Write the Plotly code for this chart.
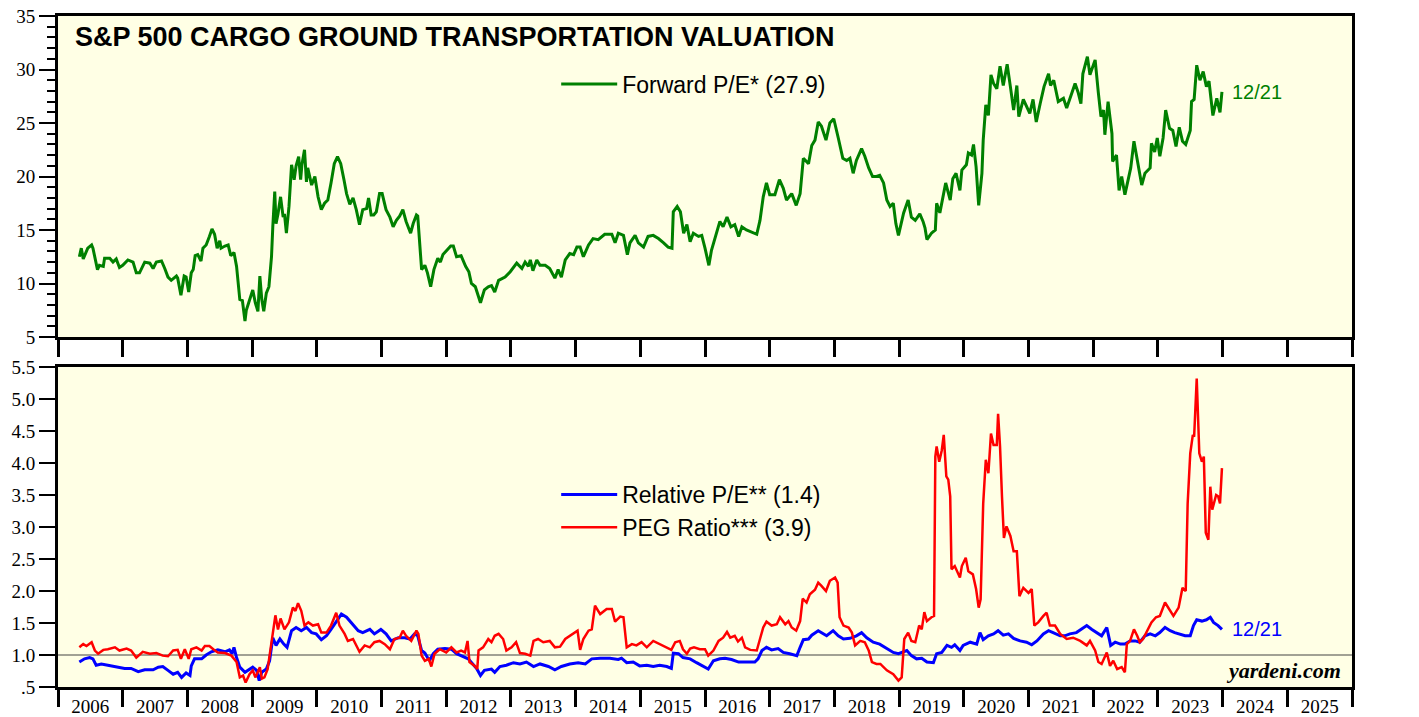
import plotly.graph_objects as go

# ---------------- data (decimal years) ----------------
pe_dates = [
    2006.33, 2006.36, 2006.39, 2006.46, 2006.52, 2006.54, 2006.61, 2006.64, 2006.70, 2006.72,
    2006.80, 2006.85, 2006.90, 2006.95, 2007.00, 2007.08, 2007.16, 2007.21, 2007.26, 2007.34,
    2007.42, 2007.47, 2007.52, 2007.60, 2007.65, 2007.70, 2007.75, 2007.83, 2007.85, 2007.90,
    2007.95, 2007.98, 2008.02, 2008.06, 2008.09, 2008.12, 2008.16, 2008.21, 2008.24, 2008.29,
    2008.34, 2008.38, 2008.42, 2008.46, 2008.50, 2008.52, 2008.58, 2008.63, 2008.67, 2008.72,
    2008.76, 2008.81, 2008.85, 2008.89, 2008.91, 2008.98, 2009.01, 2009.05, 2009.09, 2009.12,
    2009.15, 2009.18, 2009.22, 2009.26, 2009.30, 2009.32, 2009.35, 2009.37, 2009.40, 2009.44,
    2009.48, 2009.50, 2009.53, 2009.57, 2009.61, 2009.65, 2009.68, 2009.72, 2009.75, 2009.77,
    2009.81, 2009.84, 2009.86, 2009.92, 2009.97, 2010.02, 2010.07, 2010.12, 2010.17, 2010.22,
    2010.27, 2010.32, 2010.37, 2010.42, 2010.46, 2010.51, 2010.56, 2010.61, 2010.66, 2010.71,
    2010.77, 2010.80, 2010.84, 2010.88, 2010.92, 2010.97, 2011.01, 2011.07, 2011.13, 2011.18,
    2011.23, 2011.28, 2011.33, 2011.38, 2011.45, 2011.49, 2011.54, 2011.56, 2011.62, 2011.67,
    2011.71, 2011.76, 2011.81, 2011.87, 2011.91, 2011.95, 2012.00, 2012.07, 2012.11, 2012.16,
    2012.23, 2012.30, 2012.35, 2012.39, 2012.45, 2012.48, 2012.53, 2012.59, 2012.65, 2012.70,
    2012.75,
    2012.81, 2012.91, 2012.99, 2013.09, 2013.17, 2013.22, 2013.27, 2013.30, 2013.34, 2013.40,
    2013.45, 2013.53, 2013.60, 2013.68, 2013.73, 2013.78, 2013.84, 2013.91, 2013.97, 2014.02,
    2014.07, 2014.12, 2014.20, 2014.27, 2014.35, 2014.45, 2014.56, 2014.61, 2014.66, 2014.74,
    2014.80, 2014.84, 2014.92, 2014.97, 2015.05, 2015.12, 2015.20, 2015.28, 2015.36, 2015.43,
    2015.49, 2015.51, 2015.57, 2015.62, 2015.67, 2015.72, 2015.77, 2015.82, 2015.90, 2015.95,
    2016.00, 2016.06, 2016.10, 2016.15, 2016.23, 2016.28, 2016.34, 2016.40, 2016.46, 2016.52,
    2016.57, 2016.64, 2016.72, 2016.80, 2016.85, 2016.90, 2016.95, 2017.00, 2017.08, 2017.15,
    2017.21, 2017.26, 2017.34, 2017.41, 2017.47, 2017.52, 2017.60, 2017.65, 2017.70, 2017.75,
    2017.80, 2017.87, 2017.93, 2017.99, 2018.06, 2018.13, 2018.19, 2018.24, 2018.29, 2018.34,
    2018.42, 2018.47, 2018.53, 2018.59, 2018.65, 2018.70, 2018.76, 2018.81, 2018.86, 2018.91,
    2018.95, 2018.99, 2019.07, 2019.14, 2019.19, 2019.25,
    2019.32, 2019.37, 2019.40, 2019.43, 2019.50, 2019.56, 2019.58, 2019.63, 2019.72, 2019.79,
    2019.83, 2019.88, 2019.94, 2019.97, 2020.04, 2020.07, 2020.12, 2020.15, 2020.19, 2020.23,
    2020.28, 2020.30, 2020.34, 2020.38, 2020.42, 2020.46, 2020.51, 2020.56, 2020.61, 2020.67,
    2020.72, 2020.77, 2020.82, 2020.85, 2020.92, 2020.98, 2021.02, 2021.07, 2021.12, 2021.18,
    2021.24, 2021.31, 2021.34, 2021.39, 2021.46, 2021.54, 2021.59, 2021.67, 2021.72, 2021.77,
    2021.81, 2021.84, 2021.87, 2021.91, 2021.95, 2021.99, 2022.03, 2022.08, 2022.12, 2022.16,
    2022.18, 2022.23, 2022.29, 2022.30, 2022.36, 2022.40, 2022.44, 2022.49, 2022.54, 2022.58,
    2022.63, 2022.68, 2022.75, 2022.80, 2022.88, 2022.90, 2022.95, 2022.99, 2023.03, 2023.08,
    2023.12, 2023.18, 2023.23, 2023.28, 2023.33, 2023.38, 2023.43, 2023.50, 2023.52, 2023.56,
    2023.60, 2023.65, 2023.70, 2023.75, 2023.79, 2023.85, 2023.91, 2023.96, 2023.99,
]
pe_values = [
    12.5, 13.3, 12.3, 13.3, 13.6, 13.3, 11.3, 11.7, 11.6, 12.35,
    12.35, 12.0, 12.3, 11.5, 11.7, 12.2, 12.0, 11.0, 11.0, 12.0,
    11.9, 11.4, 12.0, 12.1, 11.4, 10.6, 10.3, 10.7, 10.5, 8.9,
    10.7, 10.6, 9.2, 11.0, 11.3, 12.6, 12.7, 12.1, 13.3, 13.6,
    14.4, 15.1, 14.6, 13.3, 14.0, 13.3, 13.5, 13.6, 12.6, 12.9,
    11.6, 8.5, 8.4, 6.5, 7.5, 8.7, 9.4, 8.2, 7.4, 10.7,
    8.5, 7.4, 9.1, 9.7, 12.5, 15.3, 18.6, 15.6, 16.5, 18.1,
    16.2, 16.5, 14.7, 17.2, 21.1, 19.7, 21.0, 21.85, 19.7, 21.1,
    22.5, 19.5, 20.8, 19.2, 20.0, 18.1, 16.9, 17.5, 17.8, 19.4,
    21.2, 21.85, 21.2, 19.7, 18.4, 17.4, 18.0, 16.9, 15.5, 16.9,
    17.0, 18.0, 16.4, 16.4, 16.7, 18.4, 18.4, 16.9, 16.2, 15.3,
    15.9, 16.3, 16.9, 15.8, 14.7, 15.6, 16.4, 16.3, 11.3, 11.7,
    11.0, 9.7, 11.3, 12.35, 12.0, 12.7, 13.0, 13.5, 13.5, 12.5,
    12.6, 11.6, 11.1, 10.0, 9.7, 9.1, 8.2, 9.4, 9.7, 9.8,
    9.2,
    10.3, 10.6, 11.1, 11.9, 11.4, 12.0, 11.6, 12.2, 11.2, 12.2,
    11.7, 11.7, 11.4, 10.5, 11.3, 10.6, 12.2, 12.8, 12.7, 13.4,
    13.4, 12.5, 13.6, 14.2, 14.1, 14.6, 14.6, 13.8, 14.7, 14.5,
    12.7, 13.8, 14.5, 13.8, 13.4, 14.4, 14.5, 14.2, 13.8, 13.4,
    13.3, 16.7, 17.2, 16.7, 14.7, 15.5, 13.9, 14.7, 14.4, 14.5,
    13.3, 11.7, 13.1, 14.1, 15.8, 15.3, 16.2, 15.3, 15.5, 14.4,
    15.3, 15.0, 14.8, 14.6, 15.9, 18.1, 19.4, 18.3, 18.3, 19.7,
    18.9, 17.8, 18.4, 17.3, 18.4, 21.7, 21.2, 22.9, 23.4, 25.1,
    24.7, 23.4, 25.0, 25.4, 23.6, 21.7, 21.5, 21.7, 20.3, 21.5,
    22.6, 21.9, 20.8, 20.0, 20.0, 20.1, 19.4, 17.8, 17.2, 17.5,
    15.6, 14.5, 16.6, 17.8, 16.2, 15.9,
    16.5, 15.8, 15.2, 14.1, 14.7, 15.0, 17.5, 16.6, 19.4, 17.8,
    19.8, 20.3, 18.7, 20.6, 21.1, 22.2, 22.0, 23.0, 20.9, 17.3,
    20.3, 23.4, 26.7, 25.7, 29.5, 28.7, 28.2, 30.3, 28.5, 30.5,
    28.4, 26.2, 28.5, 25.6, 27.2, 26.5, 25.9, 27.2, 25.1, 26.8,
    28.4, 29.6, 28.5, 29.0, 27.0, 27.3, 26.4, 27.8, 28.7, 27.8,
    26.8, 29.6, 30.4, 31.2, 29.5, 30.3, 30.9, 27.8, 25.6, 26.2,
    23.9, 27.0, 24.0, 21.4, 22.0, 18.7, 20.0, 18.3, 19.7, 20.8,
    23.3, 21.7, 19.2, 20.3, 20.8, 23.1, 22.3, 23.6, 21.9, 23.6,
    26.2, 24.5, 24.3, 22.8, 24.6, 23.3, 23.0, 24.3, 27.0, 27.2,
    30.4, 29.0, 29.8, 28.4, 28.9, 25.7, 27.3, 26.0, 27.9,
]

rel_dates = [
    2006.33, 2006.41, 2006.49, 2006.54, 2006.59, 2006.67, 2006.77, 2006.90, 2007.03, 2007.13,
    2007.24, 2007.34, 2007.47, 2007.55, 2007.62, 2007.70, 2007.78, 2007.85, 2007.91, 2007.98,
    2008.04, 2008.06, 2008.11, 2008.22, 2008.29, 2008.37, 2008.47, 2008.58, 2008.65, 2008.69,
    2008.72, 2008.76, 2008.81, 2008.89, 2008.96, 2009.01, 2009.07, 2009.11, 2009.15, 2009.22,
    2009.27, 2009.32, 2009.37, 2009.43, 2009.49, 2009.54, 2009.61, 2009.68, 2009.76, 2009.84,
    2009.92, 2009.99, 2010.07, 2010.15, 2010.22, 2010.30, 2010.38, 2010.46, 2010.53, 2010.64,
    2010.71, 2010.82, 2010.89, 2010.99, 2011.07, 2011.15, 2011.26, 2011.36, 2011.44, 2011.51,
    2011.56, 2011.62, 2011.67, 2011.74, 2011.80, 2011.87, 2011.98, 2012.08, 2012.16, 2012.26,
    2012.34, 2012.41, 2012.47, 2012.53, 2012.59, 2012.70, 2012.75,
    2012.83, 2012.93, 2013.04, 2013.14, 2013.24, 2013.35, 2013.45, 2013.58, 2013.68, 2013.78,
    2013.91, 2014.04, 2014.15, 2014.25, 2014.38, 2014.53, 2014.66, 2014.71, 2014.79, 2014.89,
    2014.99, 2015.10, 2015.20, 2015.30, 2015.41, 2015.48, 2015.51, 2015.59, 2015.66, 2015.77,
    2015.87, 2015.97, 2016.05, 2016.13, 2016.23, 2016.31, 2016.41, 2016.52, 2016.64, 2016.77,
    2016.82, 2016.88, 2016.95, 2017.03, 2017.13, 2017.21, 2017.31, 2017.42, 2017.47, 2017.52,
    2017.60, 2017.65, 2017.75, 2017.83, 2017.88, 2017.98, 2018.06, 2018.14, 2018.24, 2018.34,
    2018.42, 2018.50, 2018.60, 2018.70, 2018.81, 2018.91, 2018.99,
    2019.12, 2019.19, 2019.27, 2019.35, 2019.43, 2019.53, 2019.58, 2019.66, 2019.74, 2019.81,
    2019.86, 2019.94, 2019.99, 2020.10, 2020.20, 2020.25, 2020.30, 2020.38, 2020.46, 2020.53,
    2020.61, 2020.69, 2020.77, 2020.87, 2020.97, 2021.05, 2021.13, 2021.23, 2021.31, 2021.38,
    2021.49, 2021.56, 2021.64, 2021.74, 2021.82, 2021.90, 2021.98, 2022.05, 2022.13, 2022.21,
    2022.27, 2022.34, 2022.42, 2022.49, 2022.57, 2022.65, 2022.72, 2022.80, 2022.88, 2022.96,
    2023.03, 2023.11, 2023.19, 2023.26, 2023.34, 2023.42, 2023.50, 2023.55, 2023.60, 2023.68,
    2023.75, 2023.81, 2023.86, 2023.93, 2023.99,
]
rel_values = [
    0.89, 0.94, 0.96, 0.94, 0.84, 0.86, 0.84, 0.81, 0.79, 0.79,
    0.74, 0.77, 0.77, 0.81, 0.82, 0.76, 0.70, 0.73, 0.65, 0.72,
    0.68, 0.83, 0.94, 0.94, 1.00, 1.05, 1.08, 1.05, 1.08, 1.02,
    1.12, 0.96, 0.81, 0.73, 0.78, 0.81, 0.76, 0.60, 0.73, 0.78,
    0.91, 1.27, 1.15, 1.25, 1.17, 1.12, 1.38, 1.43, 1.38, 1.43,
    1.35, 1.33, 1.24, 1.30, 1.40, 1.53, 1.64, 1.59, 1.51, 1.38,
    1.35, 1.40, 1.33, 1.40, 1.33, 1.22, 1.27, 1.27, 1.25, 1.33,
    1.30, 1.07, 1.03, 0.91, 1.02, 1.09, 1.10, 1.09, 1.02, 0.98,
    0.94, 0.86, 0.79, 0.68, 0.76, 0.78, 0.73,
    0.82, 0.84, 0.88, 0.86, 0.89, 0.82, 0.86, 0.82, 0.77, 0.82,
    0.86, 0.88, 0.86, 0.94, 0.95, 0.95, 0.93, 0.95, 0.88, 0.89,
    0.83, 0.84, 0.82, 0.84, 0.82, 0.79, 1.03, 1.02, 0.96, 0.94,
    0.88, 0.83, 0.78, 0.91, 0.94, 0.95, 0.93, 0.89, 0.89, 0.89,
    0.94, 1.07, 1.12, 1.08, 1.10, 1.04, 1.02, 0.99, 1.12, 1.24,
    1.25, 1.31, 1.38, 1.33, 1.30, 1.38, 1.30, 1.25, 1.26, 1.30,
    1.35, 1.27, 1.20, 1.17, 1.10, 1.04, 1.02,
    1.07, 0.99, 0.94, 0.95, 0.89, 0.88, 1.02, 1.04, 1.15, 1.12,
    1.16, 1.07, 1.15, 1.20, 1.17, 1.35, 1.24, 1.30, 1.33, 1.38,
    1.31, 1.33, 1.26, 1.22, 1.20, 1.16, 1.22, 1.33, 1.38, 1.35,
    1.30, 1.30, 1.33, 1.35, 1.40, 1.46, 1.40, 1.35, 1.30, 1.43,
    1.15, 1.20, 1.17, 1.17, 1.22, 1.22, 1.20, 1.30, 1.33, 1.30,
    1.35, 1.43, 1.38, 1.35, 1.33, 1.30, 1.30, 1.46, 1.55, 1.53,
    1.55, 1.59, 1.51, 1.46, 1.40,
]

peg_dates = [
    2006.33, 2006.39, 2006.44, 2006.52, 2006.57, 2006.62, 2006.70, 2006.77, 2006.88, 2006.95,
    2007.06, 2007.13, 2007.21, 2007.31, 2007.42, 2007.52, 2007.62, 2007.70, 2007.78, 2007.85,
    2007.90, 2007.96, 2008.02, 2008.06, 2008.14, 2008.22, 2008.27, 2008.34, 2008.40, 2008.47,
    2008.58, 2008.68, 2008.76, 2008.81, 2008.86, 2008.90, 2008.96, 2009.01, 2009.05, 2009.12,
    2009.15, 2009.19, 2009.24, 2009.27, 2009.32, 2009.36, 2009.40, 2009.44, 2009.50, 2009.57,
    2009.63, 2009.67, 2009.71, 2009.76, 2009.81, 2009.87, 2009.94, 2010.02, 2010.07, 2010.15,
    2010.22, 2010.30, 2010.35, 2010.43, 2010.48, 2010.56, 2010.66, 2010.74, 2010.82, 2010.89,
    2010.97, 2011.05, 2011.13, 2011.20, 2011.28, 2011.33, 2011.38, 2011.46, 2011.54, 2011.57,
    2011.62, 2011.67, 2011.73, 2011.77, 2011.82, 2011.90, 2012.00, 2012.08, 2012.16, 2012.23,
    2012.29, 2012.33, 2012.36, 2012.44, 2012.48, 2012.50, 2012.57, 2012.65, 2012.70, 2012.75,
    2012.81, 2012.88, 2012.93, 2013.01, 2013.08, 2013.14, 2013.22, 2013.30, 2013.35, 2013.42,
    2013.50, 2013.60, 2013.68, 2013.76, 2013.84, 2013.91, 2013.99, 2014.03, 2014.07, 2014.12,
    2014.20, 2014.25, 2014.30, 2014.38, 2014.48, 2014.56, 2014.61, 2014.69, 2014.74, 2014.79,
    2014.87, 2014.94, 2015.02, 2015.10, 2015.20, 2015.30, 2015.38, 2015.48, 2015.54, 2015.61,
    2015.66, 2015.72, 2015.77, 2015.83, 2015.92, 2016.00, 2016.05, 2016.13, 2016.21, 2016.28,
    2016.34, 2016.39, 2016.46, 2016.51, 2016.57, 2016.62, 2016.70, 2016.80, 2016.85, 2016.90,
    2016.95, 2017.03, 2017.11, 2017.16, 2017.24, 2017.29, 2017.34, 2017.41, 2017.47, 2017.51,
    2017.57, 2017.62, 2017.70, 2017.75, 2017.80, 2017.87, 2017.93, 2018.01, 2018.05, 2018.08,
    2018.14, 2018.22, 2018.27, 2018.32, 2018.40, 2018.47, 2018.53, 2018.58, 2018.65,
    2018.71, 2018.81, 2018.91, 2018.99, 2019.04, 2019.08, 2019.14, 2019.19, 2019.25, 2019.31,
    2019.35, 2019.39, 2019.43, 2019.50, 2019.54, 2019.56, 2019.58, 2019.62, 2019.66, 2019.69,
    2019.73, 2019.76, 2019.79, 2019.81, 2019.86, 2019.94, 2019.97, 2020.03, 2020.07, 2020.14,
    2020.19, 2020.23, 2020.26, 2020.30, 2020.34, 2020.38, 2020.42, 2020.46, 2020.51, 2020.53,
    2020.56, 2020.59, 2020.62, 2020.66, 2020.72, 2020.77, 2020.82, 2020.86, 2020.92, 2021.00,
    2021.05, 2021.09, 2021.15, 2021.23, 2021.28, 2021.33, 2021.41, 2021.49, 2021.59, 2021.69,
    2021.80, 2021.90, 2021.95, 2022.03, 2022.08, 2022.13, 2022.21, 2022.26, 2022.31, 2022.37,
    2022.44, 2022.49, 2022.52, 2022.57, 2022.63, 2022.68, 2022.72, 2022.77, 2022.85, 2022.90,
    2022.97, 2023.03, 2023.11, 2023.16, 2023.24, 2023.32, 2023.38, 2023.43, 2023.46, 2023.50,
    2023.54, 2023.56, 2023.60, 2023.64, 2023.68, 2023.71, 2023.74, 2023.78, 2023.81, 2023.84,
    2023.90, 2023.93, 2023.96, 2023.99,
]
peg_values = [
    1.12, 1.17, 1.14, 1.20, 1.07, 1.02, 1.08, 1.09, 1.12, 1.07,
    1.10, 1.07, 0.96, 1.05, 1.02, 1.03, 0.99, 0.98, 1.07, 1.08,
    0.94, 1.09, 0.94, 1.09, 1.12, 1.07, 1.14, 1.14, 1.09, 1.04,
    1.03, 0.99, 0.89, 0.65, 0.68, 0.57, 0.70, 0.76, 0.65, 0.81,
    0.63, 0.65, 0.78, 0.99, 1.40, 1.62, 1.40, 1.57, 1.40, 1.51,
    1.74, 1.69, 1.81, 1.69, 1.46, 1.51, 1.46, 1.48, 1.35, 1.35,
    1.46, 1.66, 1.46, 1.33, 1.22, 1.25, 1.05, 1.15, 1.12, 1.20,
    1.22, 1.17, 1.09, 1.25, 1.27, 1.38, 1.30, 1.22, 1.38, 1.33,
    0.99, 0.91, 0.94, 0.82, 1.02, 1.09, 1.04, 1.12, 1.04, 1.07,
    1.04, 1.22, 0.89, 0.83, 0.78, 1.07, 1.12, 1.25, 1.20, 1.30,
    1.33, 1.25, 1.07, 1.12, 1.20, 1.03, 1.02, 0.99, 1.22, 1.25,
    1.20, 1.22, 1.12, 1.13, 1.25, 1.30, 1.35, 1.38, 1.08, 1.25,
    1.38, 1.40, 1.77, 1.64, 1.72, 1.72, 1.52, 1.60, 1.59, 1.12,
    1.17, 1.15, 1.20, 1.12, 1.22, 1.17, 1.12, 1.08, 1.20, 1.22,
    1.09, 1.02, 1.10, 1.12, 1.09, 1.09, 0.99, 1.07, 1.22, 1.27,
    1.36, 1.27, 1.30, 1.21, 1.27, 1.12, 1.08, 1.07, 1.25, 1.43,
    1.52, 1.46, 1.48, 1.59, 1.48, 1.53, 1.43, 1.38, 1.53, 1.88,
    1.82, 1.95, 2.02, 2.13, 2.08, 2.00, 2.16, 2.21, 2.13, 1.59,
    1.46, 1.43, 1.35, 1.15, 1.22, 1.20, 1.07, 0.89, 0.86,
    0.86, 0.76, 0.70, 0.60, 0.65, 1.25, 1.35, 1.22, 1.20, 1.46,
    1.40, 1.67, 1.53, 1.59, 1.61, 4.10, 4.26, 4.02, 4.20, 4.44,
    3.79, 3.74, 3.48, 2.34, 2.39, 2.21, 2.39, 2.52, 2.31, 2.26,
    2.03, 1.74, 1.87, 3.37, 4.05, 3.84, 4.46, 4.28, 4.28, 4.77,
    4.26, 3.48, 2.83, 3.01, 2.86, 2.62, 2.62, 1.92, 2.05, 1.97,
    2.03, 1.46, 1.51, 1.61, 1.66, 1.46, 1.46, 1.33, 1.25, 1.27,
    1.22, 1.15, 1.22, 1.07, 0.89, 0.86, 1.04, 0.83, 0.91, 0.78,
    0.81, 0.73, 1.17, 1.22, 1.40, 1.30, 1.20, 1.25, 1.40, 1.51,
    1.59, 1.61, 1.82, 1.74, 1.61, 1.74, 2.05, 2.00, 3.37, 4.15,
    4.44, 4.41, 5.32, 4.15, 4.02, 4.10, 2.91, 2.80, 3.63, 3.27,
    3.50, 3.48, 3.37, 3.92,
]

years = list(range(2006, 2026))
year_edges = list(range(2006, 2027))
top_ticks = [5, 10, 15, 20, 25, 30, 35]
bottom_ticks = [0.5, 1.0, 1.5, 2.0, 2.5, 3.0, 3.5, 4.0, 4.5, 5.0, 5.5]
bottom_tick_text = [".5", "1.0", "1.5", "2.0", "2.5", "3.0", "3.5", "4.0", "4.5", "5.0", "5.5"]

# ---------------- figure ----------------
SERIF = "Liberation Serif"
SANS = "Liberation Sans"
BG = "#FFFFE5"

fig = go.Figure()
fig.add_trace(go.Scatter(x=pe_dates, y=pe_values, mode="lines", name="Forward P/E* (27.9)",
                         line=dict(color="#008000", width=3), xaxis="x", yaxis="y", legend="legend"))
fig.add_trace(go.Scatter(x=rel_dates, y=rel_values, mode="lines", name="Relative P/E** (1.4)",
                         line=dict(color="#0000FF", width=3), xaxis="x2", yaxis="y2", legend="legend2"))
fig.add_trace(go.Scatter(x=peg_dates, y=peg_values, mode="lines", name="PEG Ratio*** (3.9)",
                         line=dict(color="#FF0000", width=2.5), xaxis="x2", yaxis="y2", legend="legend2"))

top_dom = [0.5216, 1.0]
bot_dom = [0.0, 0.4769]

xcommon = dict(range=[2006, 2026], showgrid=False, zeroline=False, showline=True,
               linecolor="black", linewidth=3, mirror=True, automargin=False)
ycommon = dict(showgrid=False, zeroline=False, tickcolor="black", ticks="outside", automargin=False,
               tickfont=dict(family=SERIF, size=19, color="black"))

fig.update_layout(
    width=1419, height=717,
    margin=dict(l=58, r=67, t=16, b=30, autoexpand=False),
    paper_bgcolor="white", plot_bgcolor=BG,
    showlegend=True,
    xaxis=dict(**xcommon, anchor="y", tickmode="array", tickvals=year_edges, ticks="outside",
               ticklen=17, tickwidth=3, tickcolor="black", showticklabels=False),
    xaxis2=dict(**xcommon, anchor="y2", tickmode="array",
                tickvals=[y + 0.5 for y in years], ticktext=[str(y) for y in years],
                ticks="", ticklabelstandoff=0,
                tickfont=dict(family=SERIF, size=19, color="black"),
                minor=dict(tickmode="array", tickvals=year_edges, ticks="outside",
                           ticklen=17, tickwidth=3, tickcolor="black")),
    yaxis=dict(**ycommon, domain=top_dom, anchor="x", range=[5, 35], tickmode="array",
               tickvals=top_ticks, ticklen=16, tickwidth=2,
               minor=dict(dtick=1, tick0=5, ticks="outside", ticklen=8, tickwidth=1.5, tickcolor="black"),
               showline=True, linecolor="black", linewidth=3, mirror=True),
    yaxis3=dict(**ycommon, overlaying="y", side="right", anchor="x", range=[5, 35],
                tickmode="array", tickvals=top_ticks, ticklen=16, tickwidth=2,
                minor=dict(dtick=1, tick0=5, ticks="outside", ticklen=8, tickwidth=1.5, tickcolor="black"),
                showline=False),
    yaxis2=dict(**ycommon, domain=bot_dom, anchor="x2", range=[0.5, 5.5], tickmode="array",
                tickvals=bottom_ticks, ticktext=bottom_tick_text, ticklen=16, tickwidth=2,
                showline=True, linecolor="black", linewidth=3, mirror=True),
    yaxis4=dict(**ycommon, overlaying="y2", side="right", anchor="x2", range=[0.5, 5.5],
                tickmode="array", tickvals=bottom_ticks, ticktext=bottom_tick_text,
                ticklen=16, tickwidth=2, showline=False),
    legend=dict(x=0.385, y=0.8987, xanchor="left", yanchor="middle", bgcolor="rgba(0,0,0,0)",
                font=dict(family=SANS, size=23, color="black"), itemwidth=56),
    legend2=dict(x=0.385, y=0.2623, xanchor="left", yanchor="middle", bgcolor="rgba(0,0,0,0)",
                 font=dict(family=SANS, size=23, color="black"), itemwidth=56, tracegroupgap=0),
)

# reference line at 1.0 on the lower panel
fig.add_shape(type="line", xref="x2 domain", x0=0, x1=1, yref="y2", y0=1.0, y1=1.0,
              line=dict(color="#444444", width=1.2), layer="below")

fig.add_annotation(xref="paper", yref="paper", x=0.0116, y=0.9687, xanchor="left", yanchor="middle",
                   text="<b>S&P 500 CARGO GROUND TRANSPORTATION VALUATION</b>", showarrow=False,
                   font=dict(family=SANS, size=27, color="black"))
fig.add_annotation(xref="x", yref="y", x=pe_dates[-1] + 0.12, y=pe_values[-1], xanchor="left",
                   yanchor="middle", text="12/21", showarrow=False,
                   font=dict(family=SANS, size=20, color="#008000"))
fig.add_annotation(xref="x2", yref="y2", x=rel_dates[-1] + 0.12, y=rel_values[-1], xanchor="left",
                   yanchor="middle", text="12/21", showarrow=False,
                   font=dict(family=SANS, size=20, color="#0000FF"))
fig.add_annotation(xref="paper", yref="paper", x=0.993, y=0.024, xanchor="right", yanchor="middle",
                   text="<b><i>yardeni.com</i></b>", showarrow=False,
                   font=dict(family=SERIF, size=22, color="black"))

fig.write_html("out.html", config={"displayModeBar": False},
               post_script="document.body.style.margin='0';document.body.style.overflow='hidden';")
